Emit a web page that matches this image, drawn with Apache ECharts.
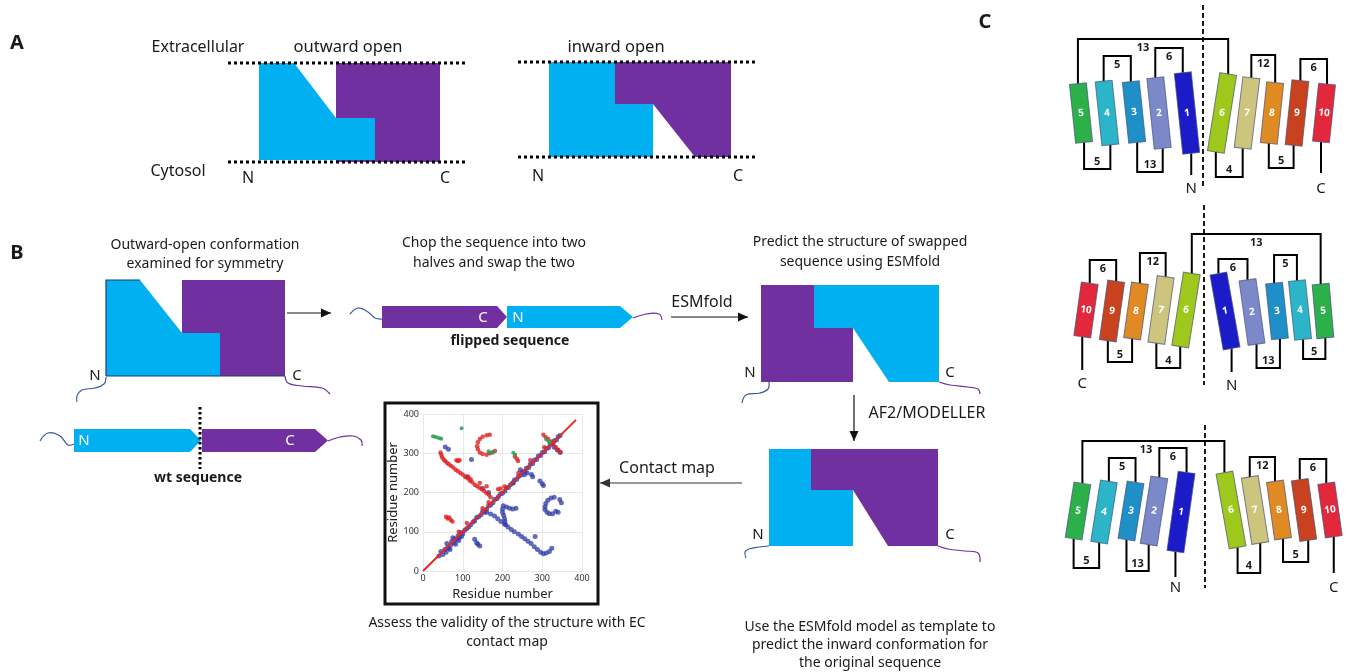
<!DOCTYPE html>
<html>
<head>
<meta charset="utf-8">
<script src="https://cdn.jsdelivr.net/npm/echarts@6/dist/echarts.min.js"></script>
<style>
  html, body { margin: 0; background: #fff; }
  #chart { width: 1346px; height: 672px; }
</style>
</head>
<body>
<div id="chart"></div>
<script>
const FONT = '"Noto Sans", sans-serif';
const CYAN = '#00b0f0';
const PURPLE = '#7030a0';
const NAVY = '#3b5b9b';

// ---- contact map values (residue i, residue j) ----
const mapTicks = [0, 100, 200, 300, 400];
const diagonalLine = [[0, 0], [385, 385]];
const blueContacts = [
  [40, 38], [45, 50], [50, 42], [55, 55], [58, 48], [60, 70], [62, 60], [65, 58], [68, 55], [70, 66],
  [72, 75], [75, 85], [78, 72], [80, 82], [82, 68], [85, 80], [88, 90], [90, 78], [92, 86], [95, 98],
  [97, 88], [100, 95], [105, 104], [110, 108], [115, 112], [120, 118], [126, 125], [130, 128], [135, 136],
  [140, 138], [146, 143], [150, 152], [155, 150], [160, 158], [165, 166], [170, 168], [176, 174],
  [180, 182], [186, 184], [190, 190], [195, 197], [200, 198], [206, 204], [210, 212], [215, 213],
  [220, 220], [226, 224], [230, 232], [236, 234], [240, 241], [245, 258], [246, 244], [250, 252],
  [255, 245], [256, 254], [260, 262], [262, 250], [266, 264], [270, 272], [276, 274], [280, 283],
  [286, 284], [290, 293], [296, 294], [300, 302], [306, 304], [310, 312], [316, 314], [320, 322],
  [326, 325], [330, 332], [336, 334], [340, 342], [345, 345],
  [160, 150], [170, 145], [180, 140], [188, 133], [196, 126], [205, 120], [214, 112], [222, 106],
  [230, 100], [240, 94], [248, 88], [256, 82], [264, 76], [272, 70], [280, 62], [288, 55], [296, 48],
  [303, 44], [310, 46], [318, 50], [324, 58], [282, 88],
  [202, 166], [210, 163], [218, 160], [226, 158], [234, 160], [200, 158], [200, 150], [203, 142],
  [205, 134], [206, 126], [208, 118],
  [330, 188], [322, 186], [314, 180], [309, 172], [307, 164], [307, 157], [312, 150], [318, 146],
  [326, 146], [334, 152], [340, 150], [348, 174], [344, 182],
  [294, 229], [300, 222], [303, 218], [273, 246], [276, 240],
  [130, 81], [135, 72], [138, 68], [143, 64],
  [330, 315], [338, 308], [345, 302],
  [56, 316], [64, 310], [122, 284], [110, 240], [150, 210], [165, 200], [227, 225]
];
const redContacts = [
  [44, 302], [46, 296], [48, 290], [52, 284], [56, 280], [60, 276], [65, 272], [70, 268], [76, 264],
  [82, 258], [88, 254], [94, 250], [100, 246], [106, 240], [112, 236], [118, 230], [124, 226],
  [130, 220], [136, 216], [142, 212], [148, 208], [154, 204], [160, 198], [166, 194], [170, 188],
  [84, 282], [88, 280], [92, 282], [114, 240], [120, 234], [143, 224], [160, 216],
  [58, 138], [62, 134], [66, 136], [70, 130], [74, 126],
  [168, 347], [160, 346], [150, 342], [143, 336], [138, 328], [136, 318], [138, 310], [143, 302],
  [150, 298], [160, 296], [168, 300], [175, 302], [181, 306],
  [231, 292], [236, 286], [239, 280],
  [303, 347], [309, 341], [315, 336], [322, 330], [328, 325], [334, 316], [340, 309], [346, 303],
  [189, 208], [195, 210],
  [90, 100], [110, 122], [150, 160], [165, 175], [205, 215], [240, 250], [270, 282], [305, 315]
];
const greenContacts = [
  [25, 343], [30, 342], [36, 340], [42, 338], [46, 337], [97, 364],
  [165, 305], [170, 300], [176, 303], [227, 301], [232, 297], [310, 335], [316, 330], [320, 326]
];

// ---- helix topology panels (labels / colours) ----
const helixColors = {
  1: '#1b1bc8', 2: '#7b89c9', 3: '#1f8fc8', 4: '#2cb5c8', 5: '#2bb04a',
  6: '#9ec81c', 7: '#cdc47e', 8: '#df8a22', 9: '#c8421f', 10: '#e4283c'
};

// layout of the three topology diagrams: [helix, cx, cy, length, tilt deg (+ = top leans left)]
// loops: [helixA, end, helixB, end, y, label, optional label x]
const topoPanels = [
  {
    dash: [1203, 5, 188],
    helices: [[5, 1081, 113, 59, 6], [4, 1107, 113, 64, 6], [3, 1134, 112, 61, 6], [2, 1159, 113, 71, 6],
      [1, 1187, 113, 81, 6], [6, 1222, 113, 79, -9], [7, 1247, 113, 71, -7], [8, 1272, 113, 61, -6],
      [9, 1297, 113, 65, -6], [10, 1324, 113, 58, -6]],
    loops: [[5, 't', 6, 't', 39, '13', 1143], [4, 't', 3, 't', 56, '5'], [2, 't', 1, 't', 48, '6'],
      [7, 't', 8, 't', 55, '12'], [9, 't', 10, 't', 59, '6'], [5, 'b', 4, 'b', 169, '5'],
      [3, 'b', 2, 'b', 172, '13'], [6, 'b', 7, 'b', 177, '4'], [8, 'b', 9, 'b', 168, '5']],
    stems: [[1, 175, 'N', 187], [10, 173, 'C', 187]]
  },
  {
    dash: [1204, 205, 385],
    helices: [[10, 1086, 310, 54, -8], [9, 1112, 311, 60, -8], [8, 1136, 311, 56, -8], [7, 1161, 310, 67, -8],
      [6, 1186, 310, 74, -9], [1, 1225, 311, 76, 10], [2, 1252, 312, 65, 8], [3, 1277, 311, 56, 6],
      [4, 1300, 310, 59, 6], [5, 1323, 311, 54, 5]],
    loops: [[6, 't', 5, 't', 234, '13'], [10, 't', 9, 't', 260, '6'], [8, 't', 7, 't', 253, '12'],
      [1, 't', 2, 't', 259, '6'], [3, 't', 4, 't', 255, '5'], [9, 'b', 8, 'b', 362, '5'],
      [7, 'b', 6, 'b', 368, '4'], [2, 'b', 3, 'b', 368, '13'], [4, 'b', 5, 'b', 359, '5']],
    stems: [[10, 370, 'C', 382], [1, 372, 'N', 384]]
  },
  {
    dash: [1205, 425, 588],
    helices: [[5, 1078, 511, 56, -9], [4, 1104, 512, 62, -9], [3, 1131, 511, 58, -9], [2, 1154, 511, 68, -9],
      [1, 1181, 512, 80, -8], [6, 1231, 510, 76, 10], [7, 1255, 510, 67, 9], [8, 1279, 510, 58, 8],
      [9, 1304, 510, 61, 8], [10, 1330, 510, 54, 8]],
    loops: [[5, 't', 6, 't', 441, '13', 1146], [4, 't', 3, 't', 458, '5'], [2, 't', 1, 't', 448, '6'],
      [7, 't', 8, 't', 457, '12'], [9, 't', 10, 't', 459, '6'], [5, 'b', 4, 'b', 568, '5'],
      [3, 'b', 2, 'b', 571, '13'], [6, 'b', 7, 'b', 573, '4'], [8, 'b', 9, 'b', 562, '5']],
    stems: [[1, 577, 'N', 586], [10, 573, 'C', 586]]
  }
];

// ---- graphic helpers ----
const g = [];
function txt(x, y, s, o = {}) {
  g.push({
    type: 'text', x, y, rotation: o.rot || 0, z: 20,
    style: {
      text: s, fill: o.color || '#1a1a1a',
      font: (o.bold ? 'bold ' : '') + (o.size || 14) + 'px ' + FONT,
      textAlign: o.align || 'center', textVerticalAlign: 'middle',
      align: o.align || 'center', verticalAlign: 'middle'
    }
  });
}
function line(pts, o = {}) {
  g.push({
    type: 'polyline', z: o.z || 12, shape: { points: pts, smooth: o.smooth || 0 },
    style: { stroke: o.color || '#000', lineWidth: o.w || 1.5, lineDash: o.dash || null, fill: null }
  });
}
function poly(pts, fill, z) {
  g.push({ type: 'polygon', z: z || 5, shape: { points: pts }, style: { fill } });
}
function box(x1, y1, x2, y2, fill, z) {
  poly([[x1, y1], [x2, y1], [x2, y2], [x1, y2]], fill, z);
}
function arrow(x1, y1, x2, y2, color) {
  const c = color || '#111';
  line([[x1, y1], [x2, y2]], { color: c, w: 1.2 });
  const dx = x2 - x1, dy = y2 - y1, L = Math.hypot(dx, dy), ux = dx / L, uy = dy / L;
  poly([[x2, y2], [x2 - ux * 10 - uy * 4.5, y2 - uy * 10 + ux * 4.5],
    [x2 - ux * 10 + uy * 4.5, y2 - uy * 10 - ux * 4.5]], c, 13);
}

// ---- panel letters ----
txt(17, 43, 'A', { bold: true, size: 20 });
txt(17, 253, 'B', { bold: true, size: 20 });
txt(985, 22, 'C', { bold: true, size: 20 });

// ---- panel A ----
txt(198, 47, 'Extracellular', { size: 16 });
txt(348, 47, 'outward open', { size: 16.5 });
txt(616, 47, 'inward open', { size: 16.5 });
txt(178, 171, 'Cytosol', { size: 16 });
box(336, 63, 440, 162, PURPLE);
poly([[259, 63], [294, 63], [336, 118], [375, 118], [375, 160], [259, 160]], CYAN, 6);
line([[228, 63], [467, 63]], { dash: [3, 3], w: 3 });
line([[228, 162], [467, 162]], { dash: [3, 3], w: 3 });
txt(248, 178, 'N', { size: 16 });
txt(445, 178, 'C', { size: 16 });

box(549, 62, 653, 157, CYAN);
poly([[615, 62], [731, 62], [731, 157], [695, 157], [653, 104], [615, 104]], PURPLE, 6);
line([[518, 62], [758, 62]], { dash: [3, 3], w: 3 });
line([[518, 157], [758, 157]], { dash: [3, 3], w: 3 });
txt(538, 176, 'N', { size: 16 });
txt(738, 176, 'C', { size: 16 });

// ---- panel B: outward-open start ----
txt(205, 245, 'Outward-open conformation', { size: 14 });
txt(205, 264, 'examined for symmetry', { size: 14 });
box(182, 280, 285, 376, PURPLE);
poly([[106, 280], [140, 280], [182, 333], [220, 333], [220, 376], [106, 376]], CYAN, 6);
line([[106, 376], [106, 280], [140, 280]], { color: '#1f3a70', w: 1.2 });
line([[106, 376], [285, 376]], { color: '#1f3a70', w: 1.2 });
txt(95, 376, 'N', { size: 15 });
txt(297, 376, 'C', { size: 15 });
line([[106, 377], [104, 384], [95, 388], [82, 390], [77, 396], [77, 402]], { color: NAVY, w: 1.2, smooth: 0.4 });
line([[285, 376], [288, 383], [302, 386], [322, 388], [330, 394]], { color: PURPLE, w: 1.2, smooth: 0.4 });
arrow(287, 313, 331, 313);

// wt sequence
poly([[74, 429], [190, 429], [201, 440.5], [190, 452], [74, 452]], CYAN);
poly([[202, 429], [315, 429], [328, 440.5], [315, 452], [202, 452]], PURPLE);
txt(84, 441, 'N', { size: 15, color: '#fff' });
txt(290, 441, 'C', { size: 15, color: '#fff' });
line([[40, 441], [48, 433], [60, 436], [68, 445], [74, 444]], { color: NAVY, w: 1.2, smooth: 0.4 });
line([[328, 441], [340, 437], [353, 436], [361, 440], [362, 446]], { color: PURPLE, w: 1.2, smooth: 0.4 });
line([[200, 407], [200, 469]], { dash: [2.5, 2.5], w: 3 });
txt(198, 478, 'wt sequence', { bold: true, size: 14 });

// flipped sequence
txt(494, 243, 'Chop the sequence into two', { size: 14 });
txt(494, 263, 'halves and swap the two', { size: 14 });
poly([[382, 306], [497, 306], [507, 317], [497, 328], [382, 328]], PURPLE);
poly([[507, 306], [620, 306], [633, 317], [620, 328], [507, 328]], CYAN);
txt(483, 318, 'C', { size: 15, color: '#fff' });
txt(518, 318, 'N', { size: 15, color: '#fff' });
line([[350, 314], [358, 308], [368, 312], [375, 318], [382, 319]], { color: NAVY, w: 1.2, smooth: 0.4 });
line([[633, 318], [646, 314], [659, 314], [662, 320]], { color: PURPLE, w: 1.2, smooth: 0.4 });
txt(510, 341, 'flipped sequence', { bold: true, size: 14 });
txt(702, 302, 'ESMfold', { size: 16 });
arrow(671, 317, 748, 317);

// predicted swapped structure
txt(860, 242, 'Predict the structure of swapped', { size: 14 });
txt(860, 262, 'sequence using ESMfold', { size: 14 });
box(761, 285, 853, 382, PURPLE);
poly([[814, 285], [939, 285], [939, 382], [889, 382], [853, 328], [814, 328]], CYAN, 6);
txt(750, 373, 'N', { size: 15 });
txt(950, 373, 'C', { size: 15 });
line([[769, 382], [768, 389], [760, 393], [746, 395], [742, 403]], { color: NAVY, w: 1.2, smooth: 0.4 });
line([[939, 382], [950, 385], [968, 387], [978, 389], [980, 394]], { color: PURPLE, w: 1.2, smooth: 0.4 });
arrow(854, 395, 854, 441);
txt(927, 413, 'AF2/MODELLER', { size: 16 });

// inward model
box(769, 449, 853, 546, CYAN);
poly([[811, 449], [938, 449], [938, 546], [888, 546], [853, 490], [811, 490]], PURPLE, 6);
txt(758, 535, 'N', { size: 15 });
txt(950, 535, 'C', { size: 15 });
line([[769, 546], [759, 547], [749, 549], [745, 552], [746, 558]], { color: NAVY, w: 1.2, smooth: 0.4 });
line([[938, 546], [948, 549], [965, 551], [978, 553], [980, 562]], { color: PURPLE, w: 1.2, smooth: 0.4 });
txt(870, 627, 'Use the ESMfold model as template to', { size: 14 });
txt(870, 645, 'predict the inward conformation for', { size: 14 });
txt(870, 663, 'the original sequence', { size: 14 });

arrow(742, 483, 600, 483, '#333');
txt(667, 468, 'Contact map', { size: 16 });
txt(507, 623, 'Assess the validity of the structure with EC', { size: 14 });
txt(507, 642, 'contact map', { size: 14 });
g.push({ type: 'rect', z: 30, shape: { x: 385, y: 403, width: 213, height: 201 },
  style: { fill: null, stroke: '#111', lineWidth: 3 } });

// ---- panel C: topology diagrams ----
topoPanels.forEach(p => {
  const end = {};
  p.helices.forEach(([n, cx, cy, h, tilt]) => {
    const r = tilt * Math.PI / 180;
    end[n] = {
      t: [cx - Math.sin(r) * h / 2, cy - Math.cos(r) * h / 2],
      b: [cx + Math.sin(r) * h / 2, cy + Math.cos(r) * h / 2]
    };
  });
  p.loops.forEach(([a, ea, b, eb, y, lab, lx]) => {
    const A = end[a][ea], B = end[b][eb];
    line([A, [A[0], y], [B[0], y], B], { w: 2 });
    txt(lx || (A[0] + B[0]) / 2, ea === 't' ? y + 9 : y - 7, lab, { bold: true, size: 11 });
  });
  p.stems.forEach(([n, y, lab, ly]) => {
    const A = end[n].b;
    line([A, [A[0], y]], { w: 2 });
    txt(A[0], ly + 2, lab, { size: 15 });
  });
  p.helices.forEach(([n, cx, cy, h, tilt]) => {
    const r = tilt * Math.PI / 180;
    g.push({ type: 'rect', x: cx, y: cy, rotation: r, z: 15,
      shape: { x: -8.5, y: -h / 2, width: 17, height: h },
      style: { fill: helixColors[n], stroke: 'rgba(70,80,120,0.7)', lineWidth: 1 } });
    g.push({ type: 'text', x: cx, y: cy, rotation: r, z: 16,
      style: { text: String(n), fill: '#fff', font: 'bold 10px ' + FONT,
        textAlign: 'center', textVerticalAlign: 'middle', align: 'center', verticalAlign: 'middle' } });
  });
  line([[p.dash[0], p.dash[1]], [p.dash[0], p.dash[2]]], { dash: [5, 3], w: 1.8 });
});

// ---- chart ----
const chart = echarts.init(document.getElementById('chart'));
const axisCommon = {
  type: 'value', min: mapTicks[0], max: mapTicks[mapTicks.length - 1], interval: 100,
  name: 'Residue number', nameLocation: 'middle',
  nameTextStyle: { fontSize: 13, color: '#222', fontFamily: FONT },
  axisLine: { show: false }, axisTick: { show: false },
  axisLabel: { fontSize: 9, color: '#333', fontFamily: FONT },
  splitLine: { lineStyle: { color: '#e8e8e8' } }
};
chart.setOption({
  backgroundColor: '#fff',
  animation: false,
  grid: { left: 423, top: 414, width: 159, height: 157 },
  xAxis: Object.assign({}, axisCommon, { nameGap: 17, axisLabel: Object.assign({}, axisCommon.axisLabel, { margin: 3 }) }),
  yAxis: Object.assign({}, axisCommon, { nameGap: 22, axisLabel: Object.assign({}, axisCommon.axisLabel, { margin: 4 }) }),
  graphic: g,
  series: [
    { type: 'scatter', data: blueContacts, symbolSize: 5, itemStyle: { color: '#2f3aa8', opacity: 0.75 } },
    { type: 'line', data: diagonalLine, symbol: 'none', lineStyle: { color: '#e8281e', width: 2 } },
    { type: 'scatter', data: redContacts, symbolSize: 4.5, itemStyle: { color: '#e0201e', opacity: 0.8 } },
    { type: 'scatter', data: greenContacts, symbolSize: 4, itemStyle: { color: '#2aa05a', opacity: 0.85 } }
  ]
});
</script>
</body>
</html>
